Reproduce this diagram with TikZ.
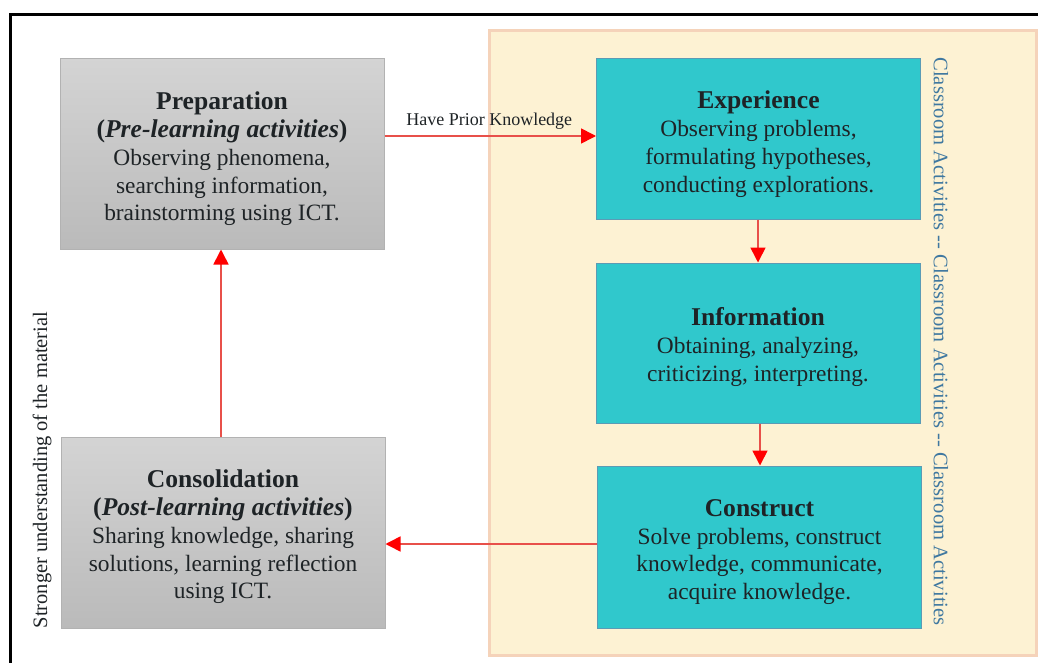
\documentclass[tikz,border=0pt]{standalone}
\usepackage{fontspec}
\setmainfont{Liberation Serif}
\usetikzlibrary{arrows.meta}
\definecolor{tealbox}{HTML}{30C8CC}
\definecolor{tealline}{HTML}{5B9BB5}
\definecolor{cream}{HTML}{FDF2D3}
\definecolor{creamline}{HTML}{F5D3BA}
\definecolor{sidetext}{HTML}{3F78A0}
\definecolor{inktext}{HTML}{1E2326}
\definecolor{linkred}{HTML}{E8504A}
\tikzset{
  x=1pt,y=-1pt,
  box/.style={rectangle,minimum width=324pt,inner sep=0pt},
  graybox/.style={box,draw=black!30,line width=1pt,top color=black!17,bottom color=black!27},
  tealnode/.style={box,draw=tealline,line width=1pt,fill=tealbox},
  boxtext/.style={inner sep=0pt,align=center,text=inktext,font=\fontsize{23.4}{27.8}\selectfont},
  link/.style={draw=linkred,line width=1.6pt,-{Triangle[length=15pt,width=15pt,fill=red,color=red]}}
}
\newcommand{\hd}[1]{{\fontsize{25.6}{27.8}\selectfont\bfseries #1}}
\begin{document}
\begin{tikzpicture}
\useasboundingbox (0,0) rectangle (1038,663);
\fill[white] (0,0) rectangle (1038,663);
\draw[black,line width=3pt] (10.5,663) -- (10.5,14.5) -- (1038,14.5);
\draw[creamline,fill=cream,line width=3pt] (489,31) rectangle (1036,655);

\node[graybox,minimum height=190pt] (prep) at (222,154) {};
\node[boxtext] (prepT) at ([yshift=-5pt]prep.center) {\hd{Preparation}\\\hd{(\textit{Pre-learning activities})}\\Observing phenomena,\\searching information,\\brainstorming using ICT.};
\node[graybox,minimum height=191pt] (cons) at (223,532.5) {};
\node[boxtext] (consT) at ([yshift=-4.5pt]cons.center) {\hd{Consolidation}\\\hd{(\textit{Post-learning activities})}\\Sharing knowledge, sharing\\solutions, learning reflection\\using ICT.};
\node[tealnode,minimum height=160pt] (exp) at (758.5,139) {};
\node[boxtext] (expT) at ([yshift=-5pt]exp.center) {\hd{Experience}\\Observing problems,\\formulating hypotheses,\\conducting explorations.};
\node[tealnode,minimum height=160pt] (info) at (758,343) {};
\node[boxtext] (infoT) at ([yshift=-4pt]info.center) {\hd{Information}\\Obtaining, analyzing,\\criticizing, interpreting.};
\node[tealnode,minimum height=162pt] (ctr) at (759.5,547) {};
\node[boxtext] (ctrT) at ([yshift=-5pt]ctr.center) {\hd{Construct}\\Solve problems, construct\\knowledge, communicate,\\acquire knowledge.};

\draw[link] ([yshift=18pt]prep.east) -- node[midway,above=6pt,inner sep=0pt,text=inktext,font=\fontsize{18}{20}\selectfont,xshift=-1pt] (lbl) {Have Prior Knowledge} ([yshift=3pt]exp.west);
\draw[link] ([xshift=-.5pt]exp.south) -- ([xshift=0pt]info.north);
\draw[link] ([xshift=2pt]info.south) -- ([xshift=.5pt]ctr.north);
\draw[link] ([yshift=3pt]ctr.west) -- ([yshift=-11.5pt]cons.east);
\draw[link] ([xshift=-2pt]cons.north) -- ([xshift=-1pt]prep.south);

\node[rotate=-90,text=sidetext,font=\fontsize{20.6}{22}\selectfont,inner sep=0pt] (side) at (941,341.5) {Classroom Activities -{}- Classroom Activities -{}- Classroom Activities};
\node[rotate=90,text=inktext,font=\fontsize{20.5}{22}\selectfont,inner sep=0pt] (left) at (42,470) {Stronger understanding of the material};
\end{tikzpicture}
\end{document}
